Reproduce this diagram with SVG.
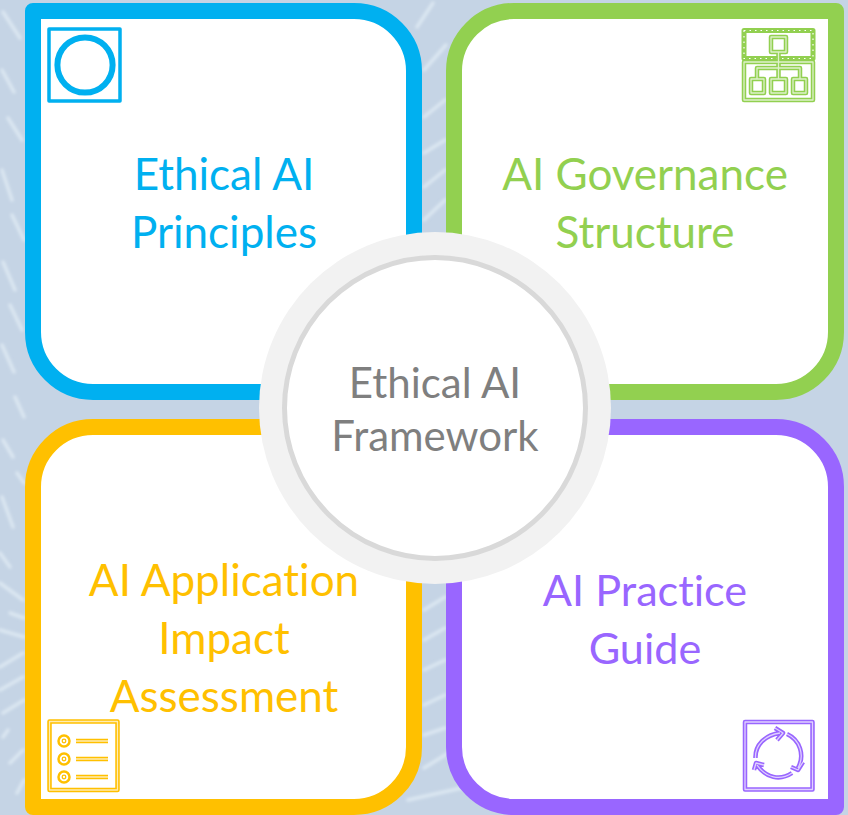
<svg xmlns="http://www.w3.org/2000/svg" width="848" height="815" viewBox="0 0 848 815">
<style>
text{font-family:"Lato","Liberation Sans",sans-serif;font-size:44px;text-anchor:middle;font-variant-ligatures:none}
.box{fill:#fff;stroke-width:16;stroke-linejoin:round}
.ic{fill:none;stroke-linejoin:round}
.o{stroke-width:4.500}
.i{stroke:#fff;stroke-width:1.300;stroke-opacity:.7}
.mid{font-size:42px;fill:#7f7f7f}
.pur{font-size:43.200px;fill:#9966ff}
</style>
<defs>
<filter id="soft" x="-20%" y="-20%" width="140%" height="140%"><feGaussianBlur stdDeviation="1.800"/></filter>
<path id="gov" d="M744 62H813V100H744ZM778.500 52V79M757 79V68H800V79M771 37H786V52H771ZM751 79H764V93H751ZM771 79H786V93H771ZM793 79H806V93H793Z"/>
<path id="lst" d="M49.500 721.500H117.500V790H49.500ZM76 741H108M76 759H108M76 777H108"/>
<path id="rot" d="M745 722H812.500V789.500H745ZM755.500 758C755 745 765 735 780 733M775 728L783 733L777 740M787 734C800 740 805 755 798 768M803 762L798 770L791 767M792 773C780 781 766 778 757 765M754 770L756 763L764 765"/>
</defs>
<rect id="background" width="848" height="815" fill="#c5d4e5"/>
<g id="streaks" fill="none" stroke="#e3edf6" stroke-opacity=".75" stroke-width="3.500" stroke-linecap="round" filter="url(#soft)">
<path d="M3 12L20 38M2 70L14 92M8 118L22 140M2 170L12 200M12 215L24 240M3 262L15 290M10 305L22 330M2 345L14 372"/>
<path d="M15 397L24 417M3 440L13 457M17 473L24 483M2 497L13 527M0 553L10 567M0 583L23 600M10 613L24 618M0 630L24 637M0 667L23 653M0 690L23 677M3 713L24 700M3 737L8 730M10 763L23 750M17 793L24 780"/>
<path d="M417 27L433 3M424 70L446 45M424 117L445 100M424 153L445 140M424 187L445 170M424 220L445 200"/>
<path d="M424 610L445 597M424 640L445 628M424 670L445 660M424 705L445 695M424 735L445 728M424 768L450 752M408 800L466 787"/>
</g>
<g id="node-principles">
<path class="box" d="M33 11H354A60 60 0 0 1 414 71V332A60 60 0 0 1 354 392H93A60 60 0 0 1 33 332Z" stroke="#00b0f0"/>
<text x="224" y="190" fill="#00b0f0">Ethical AI</text>
<text x="224" y="248" fill="#00b0f0">Principles</text>
<g class="ic" stroke="#00b0f0"><rect x="49" y="29" width="71" height="72" stroke-width="3.500"/><circle cx="85" cy="65" r="27.600" stroke-width="6"/></g>
</g>
<g id="node-governance">
<path class="box" d="M454 71A60 60 0 0 1 514 11H836V332A60 60 0 0 1 776 392H514A60 60 0 0 1 454 332Z" stroke="#92d050"/>
<text x="645" y="190" fill="#92d050">AI Governance</text>
<text x="645" y="248" fill="#92d050">Structure</text>
<g class="ic" stroke="#92d050">
<rect x="744" y="30.500" width="69" height="28" stroke-width="5"/>
<rect x="744" y="30.500" width="69" height="28" stroke="#fff" stroke-width="1.200" stroke-dasharray="1.500 4"/>
<use href="#gov" class="o"/><use href="#gov" class="i"/></g>
</g>
<g id="node-assessment">
<path class="box" d="M93 427H354A60 60 0 0 1 414 487V747A60 60 0 0 1 354 807H33V487A60 60 0 0 1 93 427Z" stroke="#ffc000"/>
<text x="224" y="596" fill="#ffc000">AI Application</text>
<text x="224" y="654" fill="#ffc000">Impact</text>
<text x="224" y="712" fill="#ffc000">Assessment</text>
<g class="ic" stroke="#ffc000">
<use href="#lst" class="o"/><use href="#lst" class="i"/>
<circle cx="64" cy="741" r="5.500" stroke-width="2.500"/><circle cx="64" cy="741" r="1.800" stroke-width="1.300"/><circle cx="64" cy="759" r="5.500" stroke-width="2.500"/><circle cx="64" cy="759" r="1.800" stroke-width="1.300"/><circle cx="64" cy="777" r="5.500" stroke-width="2.500"/><circle cx="64" cy="777" r="1.800" stroke-width="1.300"/></g>
</g>
<g id="node-guide">
<path class="box" d="M514 427H776A60 60 0 0 1 836 487V807H514A60 60 0 0 1 454 747V487A60 60 0 0 1 514 427Z" stroke="#9966ff"/>
<text class="pur" x="645" y="606">AI Practice</text>
<text class="pur" x="645" y="664">Guide</text>
<g class="ic" stroke="#9966ff"><use href="#rot" class="o"/><use href="#rot" class="i"/></g>
</g>
<g id="node-center">
<circle cx="435" cy="408" r="176" fill="#f2f2f2"/>
<circle cx="435" cy="408" r="150.500" fill="#fff" stroke="#d9d9d9" stroke-width="5"/>
<text class="mid" x="435" y="398">Ethical AI</text>
<text class="mid" x="435" y="451">Framework</text>
</g>
<g id="connectors"/>
</svg>
